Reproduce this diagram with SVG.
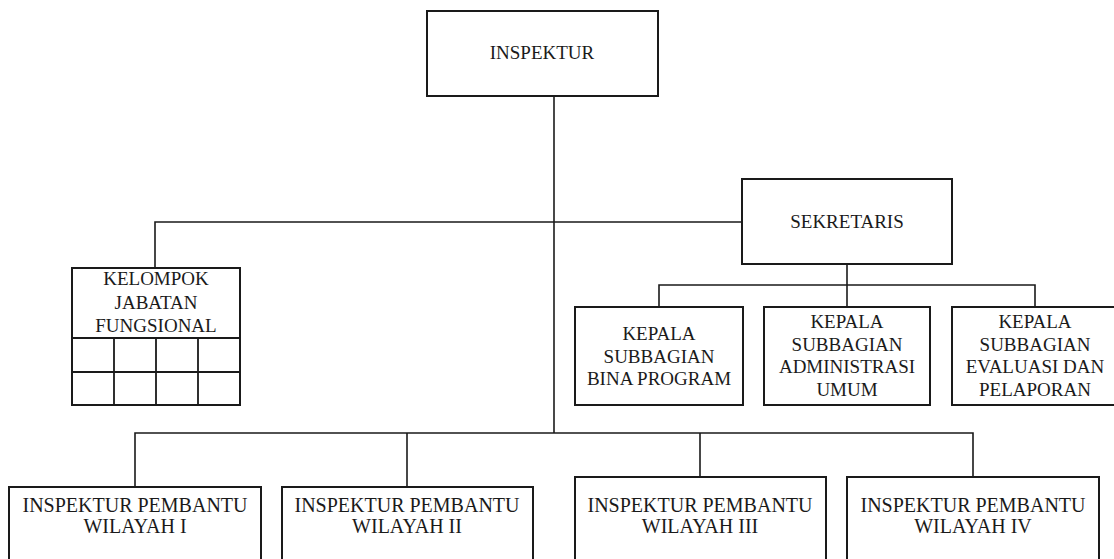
<svg xmlns="http://www.w3.org/2000/svg" width="1114" height="559" viewBox="0 0 1114 559">
<style>
.box{fill:#fff;stroke:#1a1a1a;stroke-width:2}
.ln{fill:none;stroke:#1a1a1a;stroke-width:1.6}
.grid{fill:none;stroke:#1a1a1a;stroke-width:1.8}
text{font-family:"Liberation Serif","Times New Roman",serif;font-size:19px;fill:#1a1a1a;text-anchor:middle}
.b{font-size:20px}
</style>
<rect width="1114" height="559" fill="#fff"/>
<g id="connectors">
<path class="ln" d="M554 96V433"/>
<path class="ln" d="M155 268V222H742"/>
<path class="ln" d="M847 264V307"/>
<path class="ln" d="M659 307V285H1035V307"/>
<path class="ln" d="M135 487V433H973V477"/>
<path class="ln" d="M407 433V487"/>
<path class="ln" d="M700 433V477"/>
</g>
<g id="inspektur">
<rect class="box" x="427" y="11" width="231" height="85"/>
<text x="542" y="59">INSPEKTUR</text>
</g>
<g id="sekretaris">
<rect class="box" x="742" y="179" width="210" height="85"/>
<text x="847" y="228">SEKRETARIS</text>
</g>
<g id="kelompok">
<rect class="box" x="72" y="268" width="168" height="137"/>
<path class="grid" d="M72 338H240M72 372H240M114 338V405M156 338V405M198 338V405"/>
<text x="156" y="285">KELOMPOK</text>
<text x="156" y="309">JABATAN</text>
<text x="156" y="332">FUNGSIONAL</text>
</g>
<g id="kasubag-bina">
<rect class="box" x="575" y="307" width="168" height="98"/>
<text x="659" y="340">KEPALA</text>
<text x="659" y="362.5">SUBBAGIAN</text>
<text x="659" y="385">BINA PROGRAM</text>
</g>
<g id="kasubag-adm">
<rect class="box" x="764" y="307" width="166" height="98"/>
<text x="847" y="328">KEPALA</text>
<text x="847" y="350.5">SUBBAGIAN</text>
<text x="847" y="373">ADMINISTRASI</text>
<text x="847" y="395.5">UMUM</text>
</g>
<g id="kasubag-evaluasi">
<rect class="box" x="952" y="307" width="170" height="98"/>
<text x="1035" y="328">KEPALA</text>
<text x="1035" y="350.5">SUBBAGIAN</text>
<text x="1035" y="373">EVALUASI DAN</text>
<text x="1035" y="395.5">PELAPORAN</text>
</g>
<g id="irban-1">
<rect class="box" x="9" y="487" width="252" height="90"/>
<text class="b" x="135" y="512">INSPEKTUR PEMBANTU</text>
<text class="b" x="135" y="533">WILAYAH I</text>
</g>
<g id="irban-2">
<rect class="box" x="282" y="487" width="251" height="90"/>
<text class="b" x="407" y="512">INSPEKTUR PEMBANTU</text>
<text class="b" x="407" y="533">WILAYAH II</text>
</g>
<g id="irban-3">
<rect class="box" x="575" y="477" width="251" height="100"/>
<text class="b" x="700" y="512">INSPEKTUR PEMBANTU</text>
<text class="b" x="700" y="533">WILAYAH III</text>
</g>
<g id="irban-4">
<rect class="box" x="847" y="477" width="252" height="100"/>
<text class="b" x="973" y="512">INSPEKTUR PEMBANTU</text>
<text class="b" x="973" y="533">WILAYAH IV</text>
</g>
</svg>
